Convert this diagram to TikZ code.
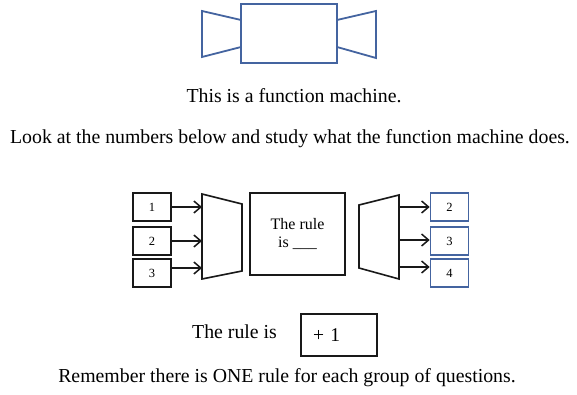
\documentclass[tikz,border=0pt]{standalone}
\usepackage{fontspec}
\setmainfont{Liberation Serif}
\usepackage{tikz}
\usetikzlibrary{arrows.meta, positioning}
\definecolor{mcblue}{RGB}{68,100,160}
\definecolor{mcdark}{RGB}{25,25,25}
\tikzset{
  numbox/.style={rectangle, draw=mcdark, minimum width=38pt,
    minimum height=28pt, inner sep=0pt, line width=1.6pt,
    font=\fontsize{12.5}{14}\selectfont},
  bluebox/.style={numbox, draw=mcblue},
  rulebox/.style={rectangle, draw=mcdark, minimum width=95pt,
    minimum height=82pt, inner sep=0pt, line width=1.6pt, align=center,
    font=\fontsize{16}{18}\selectfont},
  ansbox/.style={rectangle, draw=mcdark, minimum height=42pt,
    inner xsep=12pt, inner ysep=0pt, text width=52pt, align=left,
    line width=1.6pt, font=\fontsize{19.5}{23}\selectfont},
  txt/.style={anchor=base, inner sep=0pt, font=\fontsize{19.8}{23}\selectfont},
  feed/.style={-{Straight Barb[length=7pt, width=12pt, line width=1.5pt]},
    line width=1.5pt, color=mcdark},
  hopper/.style={line width=1.6pt, color=mcdark, line join=miter},
  topmc/.style={line width=1.8pt, color=mcblue}
}

\begin{document}
\begin{tikzpicture}[x=1pt, y=-1pt]
  \useasboundingbox (0,0) rectangle (577,395);

  % Top machine
  \draw[topmc] (241,4) rectangle (337,63);
  \draw[topmc] (241,20) -- (202,11) -- (202,57) -- (241,47);
  \draw[topmc] (337,20) -- (376,11) -- (376,58) -- (337,47);

  % Text
  \node[txt] (title) at (294,103) {This is a function machine.};
  \node[txt] (intro) at (290,144) {Look at the numbers below and study what the function machine does.};

  % Input numbers
  \node[numbox] (in1) at (152,207) {1};
  \node[numbox] (in2) at (152,241) {2};
  \node[numbox] (in3) at (152,273) {3};

  % Left hopper
  \draw[hopper] (202,194) -- (242,204) -- (242,271) -- (202,279) -- cycle;
  \coordinate (lt) at (202,240);

  % Rule box
  \node[rulebox] (rule) at (297.5,234) {The rule\\is \_\_\_};

  % Right hopper
  \draw[hopper] (359,205) -- (399,195) -- (399,279) -- (359,268) -- cycle;
  \coordinate (rt) at (399,240);

  % Output numbers
  \node[bluebox] (out1) at (449.5,207) {2};
  \node[bluebox] (out2) at (449.5,241) {3};
  \node[bluebox] (out3) at (449.5,273) {4};

  % Arrows in and out
  \draw[feed] (in1.east) -- (in1.east -| lt);
  \draw[feed] (in2.east) -- (in2.east -| lt);
  \draw[feed] ([yshift=5pt]in3.east) -- ([yshift=5pt]in3.east -| lt);
  \draw[feed] (out1.west -| rt) -- (out1.west);
  \draw[feed] ([yshift=1pt]out2.west -| rt) -- ([yshift=1pt]out2.west);
  \draw[feed] ([yshift=6pt]out3.west -| rt) -- ([yshift=6pt]out3.west);

  % Answer
  \node[txt] (ruleis) at (234.5,338) {The rule is};
  \node[ansbox] (ans) at (339,335) {+ 1};

  \node[txt] (remind) at (287,382) {Remember there is ONE rule for each group of questions.};
\end{tikzpicture}
\end{document}
